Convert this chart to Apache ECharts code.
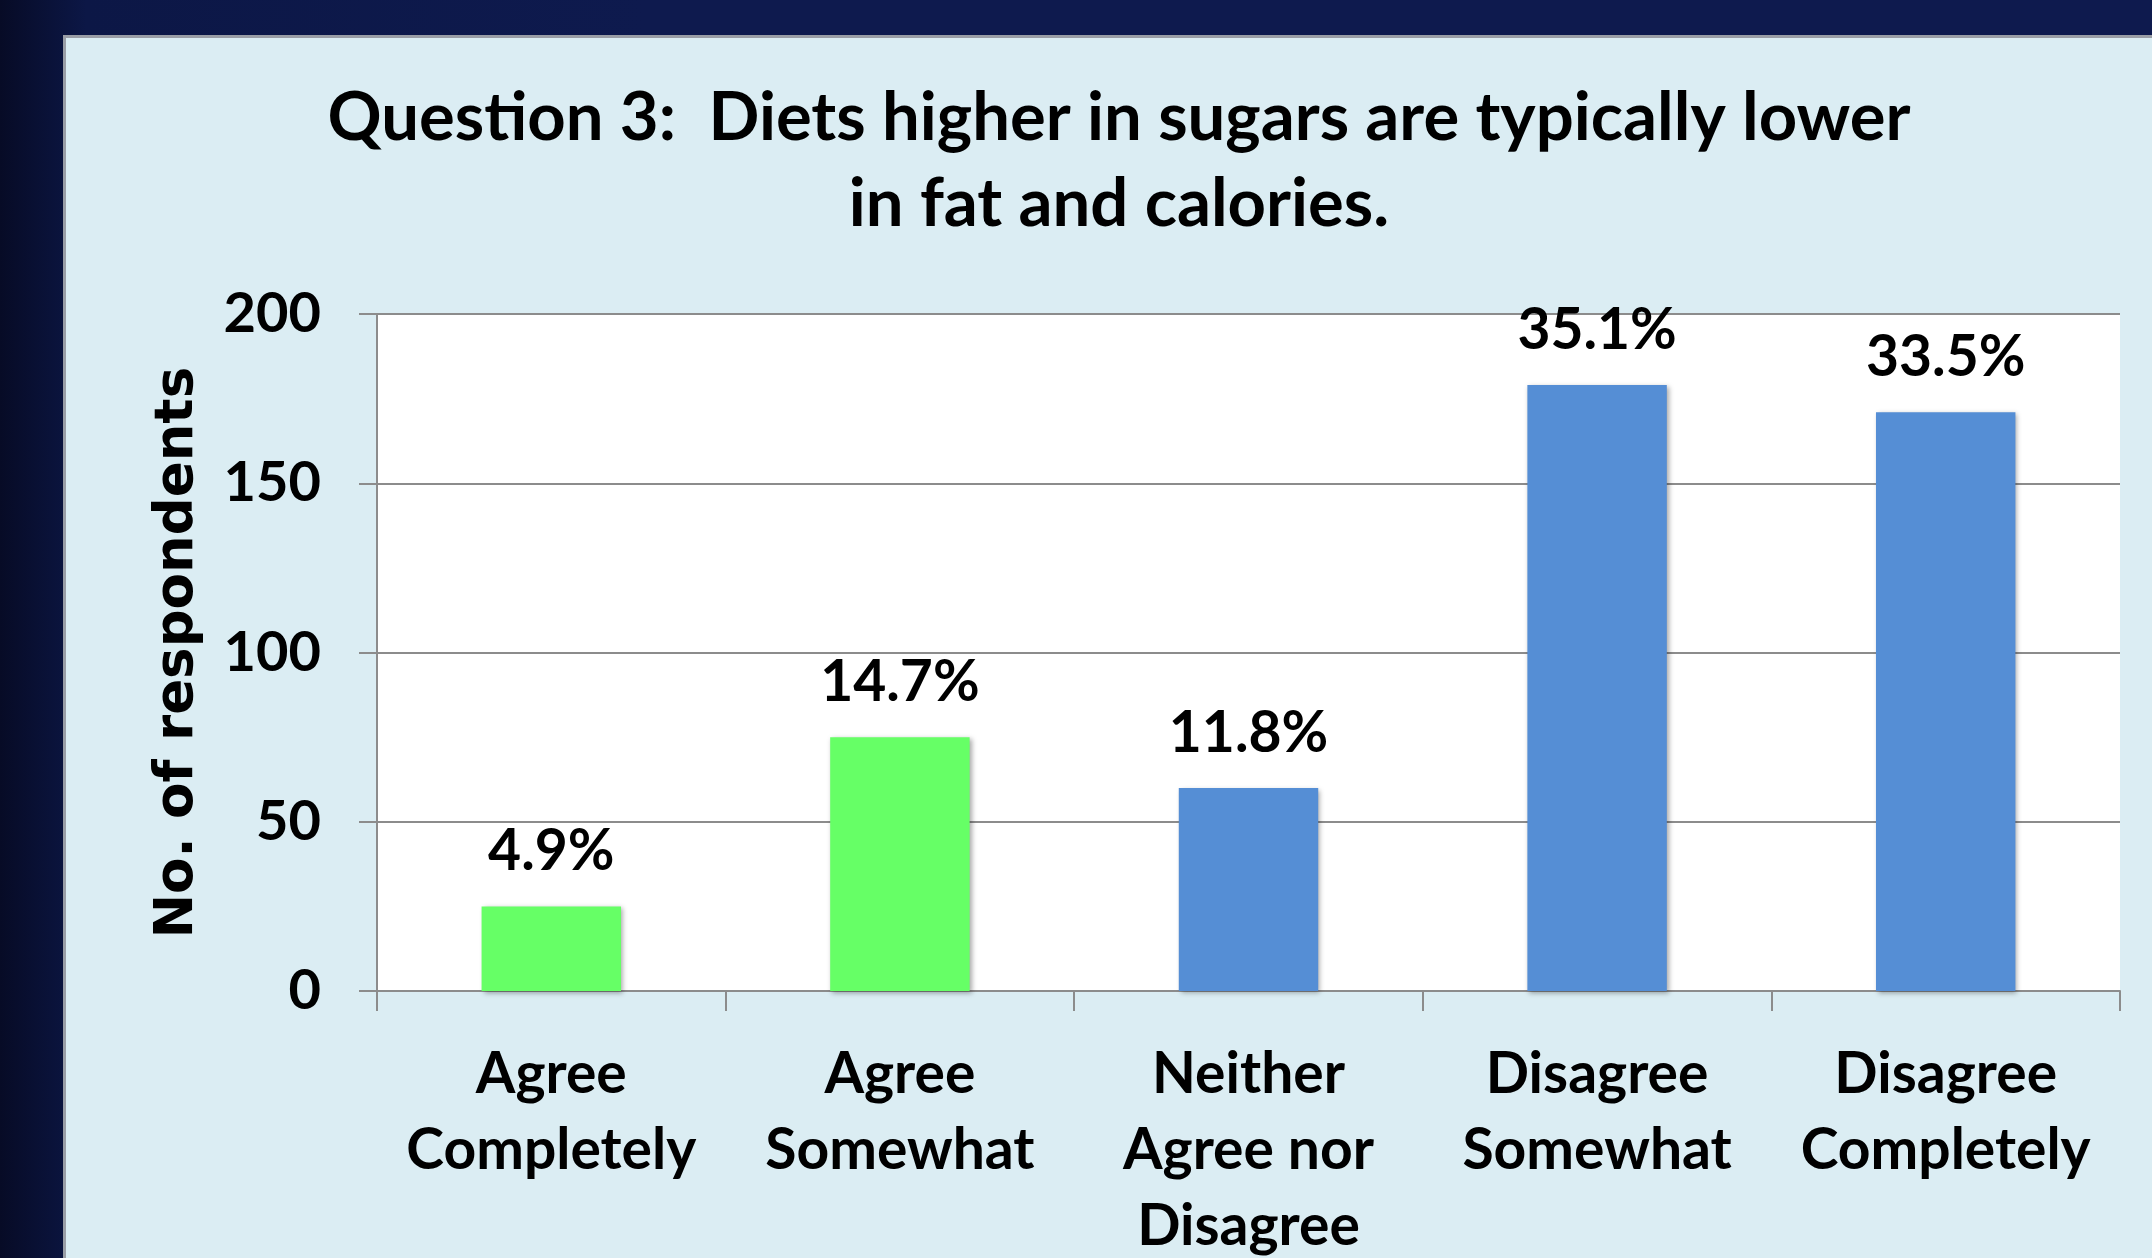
<!DOCTYPE html>
<html>
<head>
<meta charset="utf-8">
<script src="https://cdn.jsdelivr.net/npm/echarts@6/dist/echarts.min.js"></script>
<style>
  html, body { margin: 0; padding: 0; width: 2152px; height: 1258px; overflow: hidden; }
  body { background: linear-gradient(90deg, #070b26 0%, #0c1746 4%, #0e1a4e 30%, #0e1a4e 100%); position: relative; }
  #panel { position: absolute; left: 63px; top: 35px; width: 2100px; height: 1240px; background: #dbedf3; border: 3px solid #9a9ea6; box-sizing: border-box; }
  #chart { position: absolute; left: 0; top: 0; width: 2152px; height: 1258px; }
</style>
</head>
<body>
<div id="panel"></div>
<div id="chart"></div>
<script>
const categories = ["Agree\nCompletely", "Agree\nSomewhat", "Neither\nAgree nor\nDisagree", "Disagree\nSomewhat", "Disagree\nCompletely"];
const respondents = [25, 75, 60, 179, 171];
const percentLabels = ["4.9%", "14.7%", "11.8%", "35.1%", "33.5%"];
const yTicks = [0, 50, 100, 150, 200];

const barColors = ["#66ff66", "#66ff66", "#558ed5", "#558ed5", "#558ed5"];
const FONT = "Lato";

const chart = echarts.init(document.getElementById('chart'), null, { renderer: 'canvas' });
chart.setOption({
  backgroundColor: 'transparent',
  animation: false,
  title: {
    text: "Question 3:  Diets higher in sugars are typically lower\nin fat and calories.",
    left: 1114,
    top: 70,
    textAlign: 'center',
    textStyle: { fontFamily: FONT, fontWeight: 'bold', fontSize: 67, lineHeight: 86, color: '#000' }
  },
  grid: { left: 377, right: 32, top: 314, bottom: 267, outerBoundsMode: 'none', containLabel: false, backgroundColor: '#ffffff', show: true, borderWidth: 0 },
  xAxis: {
    type: 'category',
    data: categories,
    axisLine: { show: true, lineStyle: { color: '#8c8c8c', width: 2 } },
    axisTick: { show: true, length: 20, lineStyle: { color: '#8c8c8c', width: 2 } },
    axisLabel: { margin: 46, fontFamily: FONT, fontWeight: 'bold', fontSize: 57, lineHeight: 76, color: '#000', interval: 0 }
  },
  yAxis: {
    type: 'value',
    min: yTicks[0],
    max: yTicks[yTicks.length - 1],
    interval: 50,
    name: 'No. of respondents',
    nameLocation: 'middle',
    nameGap: 172,
    nameTextStyle: { fontFamily: 'DejaVu Sans', fontWeight: 'bold', fontSize: 53, color: '#000' },
    axisLine: { show: true, lineStyle: { color: '#8c8c8c', width: 2 } },
    axisTick: { show: true, length: 18, lineStyle: { color: '#8c8c8c', width: 2 } },
    splitLine: { show: true, lineStyle: { color: '#8c8c8c', width: 2 } },
    axisLabel: { margin: 56, fontFamily: FONT, fontWeight: 'bold', fontSize: 56, color: '#000' }
  },
  series: [{
    type: 'bar',
    barWidth: '40%',
    data: respondents.map((v, i) => ({ value: v, itemStyle: { color: barColors[i] } })),
    itemStyle: { shadowBlur: 5, shadowColor: 'rgba(0,0,0,0.35)', shadowOffsetX: 2, shadowOffsetY: 2 },
    label: {
      show: true,
      position: 'top',
      distance: 26,
      formatter: p => percentLabels[p.dataIndex],
      fontFamily: FONT, fontWeight: 'bold', fontSize: 57, color: '#000'
    }
  }]
});
</script>
</body>
</html>
